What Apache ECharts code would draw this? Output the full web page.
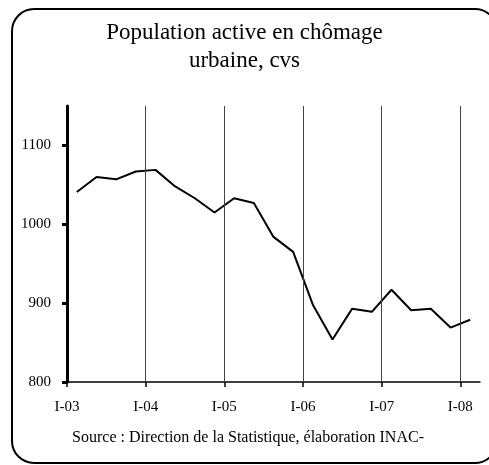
<!DOCTYPE html>
<html>
<head>
<meta charset="utf-8">
<script src="https://cdn.jsdelivr.net/npm/echarts@6/dist/echarts.min.js"></script>
<style>
  html, body { margin: 0; padding: 0; background: #fff; }
  #chart { width: 489px; height: 465px; }
</style>
</head>
<body>
<div id="chart"></div>
<script>
// données trimestrielles, I-03 .. I-08
const quarters = ['I-03','II-03','III-03','IV-03','I-04','II-04','III-04','IV-04','I-05','II-05','III-05','IV-05',
  'I-06','II-06','III-06','IV-06','I-07','II-07','III-07','IV-07','I-08'];
const chomage = [1041, 1060, 1057, 1067, 1069, 1048, 1033, 1015, 1033, 1027, 984, 965,
  898, 854, 893, 889, 917, 891, 893, 869, 879];
// étiquettes de l'axe x (un repère tous les 4 trimestres)
const yearLabels = ['I-03', 'I-04', 'I-05', 'I-06', 'I-07', 'I-08'];
const yearTicks = [0, 4, 8, 12, 16, 20];
const yTicks = [800, 900, 1000, 1100];

const serif = '"Liberation Serif", "DejaVu Serif", serif';

// point au milieu de chaque trimestre
const lineData = chomage.map((v, i) => [i + 0.5, v]);

const chart = echarts.init(document.getElementById('chart'), null, { renderer: 'canvas' });

const option = {
  animation: false,
  backgroundColor: '#fff',
  title: {
    text: 'Population active en chômage\nurbaine, cvs',
    left: 'center',
    top: 14,
    textStyle: {
      fontFamily: serif,
      fontSize: 23,
      fontWeight: 'normal',
      color: '#000',
      lineHeight: 28
    }
  },
  grid: {
    left: 67,
    right: 9,
    top: 106,
    bottom: 83
  },
  xAxis: {
    type: 'value',
    min: 0,
    max: 21,
    interval: 4,
    axisLine: { show: true, lineStyle: { color: '#000', width: 1.5 } },
    axisTick: { show: true, length: 5, customValues: yearTicks, lineStyle: { color: '#000', width: 1.5 } },
    axisLabel: {
      customValues: yearTicks,
      margin: 18,
      fontFamily: serif,
      fontSize: 15,
      color: '#000',
      formatter: function (v) {
        return yearLabels[yearTicks.indexOf(v)] || '';
      }
    },
    splitLine: { show: false }
  },
  yAxis: {
    type: 'value',
    min: 800,
    max: 1150,
    interval: 100,
    axisLine: { show: true, lineStyle: { color: '#000', width: 3 } },
    axisTick: { show: true, length: 5, customValues: yTicks, lineStyle: { color: '#000', width: 3 } },
    axisLabel: {
      customValues: yTicks,
      margin: 16,
      fontFamily: serif,
      fontSize: 15,
      color: '#000',
      formatter: function (v) { return String(v); }
    },
    splitLine: { show: false },
    z: 5
  },
  series: [{
    name: 'Population active en chômage urbaine',
    type: 'line',
    data: lineData,
    symbol: 'none',
    lineStyle: { color: '#000', width: 2 },
    markLine: {
      silent: true,
      symbol: 'none',
      label: { show: false },
      lineStyle: { color: '#444', width: 1, type: 'solid' },
      data: yearTicks.slice(1).map(t => ({ xAxis: t }))
    }
  }],
  graphic: [
    {
      type: 'rect',
      shape: { x: 12, y: 9, width: 485, height: 454, r: 22 },
      style: { fill: 'none', stroke: '#000', lineWidth: 2 },
      silent: true
    },
    {
      type: 'text',
      x: 248,
      y: 438,
      style: {
        text: 'Source : Direction de la Statistique, élaboration INAC-',
        font: '16px ' + serif,
        fill: '#000',
        align: 'center',
        verticalAlign: 'middle'
      }
    }
  ]
};

chart.setOption(option);
</script>
</body>
</html>
